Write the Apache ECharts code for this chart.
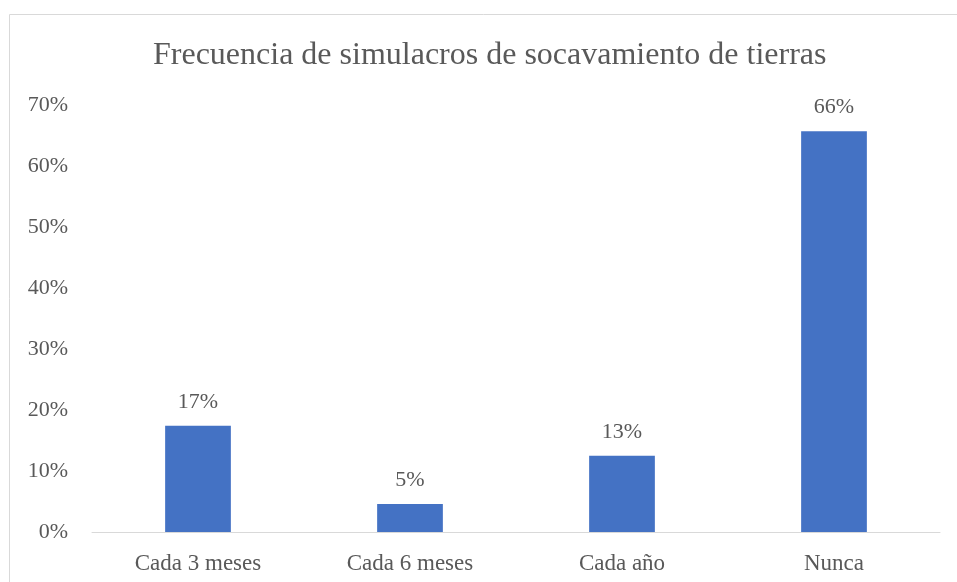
<!DOCTYPE html>
<html>
<head>
<meta charset="utf-8">
<script src="https://cdn.jsdelivr.net/npm/echarts@6/dist/echarts.min.js"></script>
<style>
  html, body { margin: 0; padding: 0; background: #fff; }
  #chart { width: 957px; height: 582px; }
</style>
</head>
<body>
<div id="chart"></div>
<script>
// data
const categories = ['Cada 3 meses', 'Cada 6 meses', 'Cada año', 'Nunca']
const values = [0.174, 0.046, 0.125, 0.657]
const titleText = 'Frecuencia de simulacros de socavamiento de tierras'

const textColor = '#595959'
const fontFamily = '"Liberation Serif", "Times New Roman", serif'

const chart = echarts.init(document.getElementById('chart'))

chart.setOption({
  textStyle: { fontFamily: fontFamily },
  title: {
    text: titleText,
    left: 148,
    top: 35,
    textStyle: {
      fontFamily: fontFamily,
      fontSize: 32,
      fontWeight: 'normal',
      color: textColor
    }
  },
  graphic: [{
    type: 'rect',
    shape: { x: 9.5, y: 14.5, width: 980, height: 620 },
    style: { fill: 'none', stroke: '#d9d9d9', lineWidth: 1 },
    silent: true
  }],
  grid: {
    left: 92,
    right: 17,
    top: 105,
    bottom: 50,
    containLabel: false
  },
  xAxis: {
    type: 'category',
    data: categories,
    axisLine: { lineStyle: { color: '#d9d9d9', width: 1 } },
    axisTick: { show: false },
    axisLabel: {
      color: textColor,
      fontFamily: fontFamily,
      fontSize: 23,
      margin: 20
    }
  },
  yAxis: {
    type: 'value',
    min: 0,
    max: 0.7,
    interval: 0.1,
    splitLine: { show: false },
    axisLine: { show: false },
    axisTick: { show: false },
    axisLabel: {
      color: textColor,
      fontFamily: fontFamily,
      fontSize: 22,
      margin: 24,
      formatter: v => Math.round(v * 100) + '%'
    }
  },
  series: [{
    type: 'bar',
    data: values,
    barWidth: '31%',
    itemStyle: { color: '#4472C4' },
    label: {
      show: true,
      position: 'top',
      distance: 13,
      color: textColor,
      fontFamily: fontFamily,
      fontSize: 22,
      formatter: p => Math.round(p.value * 100) + '%'
    },
    animation: false
  }]
})
</script>
</body>
</html>
